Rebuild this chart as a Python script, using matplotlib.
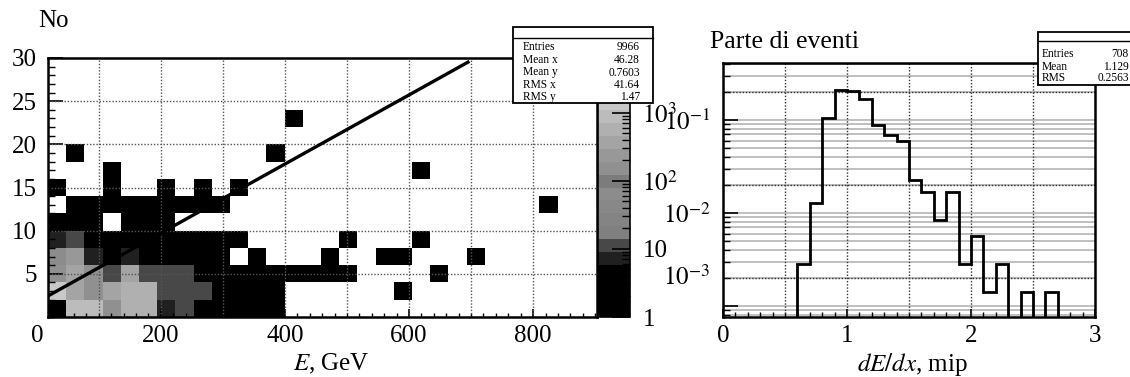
import matplotlib
matplotlib.use("Agg")
import matplotlib.pyplot as plt
import numpy as np
from matplotlib.colors import ListedColormap, LogNorm
from matplotlib.patches import Rectangle
from matplotlib.lines import Line2D
from matplotlib.ticker import MultipleLocator, LogLocator, NullFormatter
from matplotlib.transforms import blended_transform_factory

plt.rcParams['font.family'] = ['Liberation Serif', 'DejaVu Serif']
plt.rcParams['mathtext.fontset'] = 'stix'

# ---- left panel: No vs E (2-D histogram, counts per cell) ----
e_edges = np.linspace(18, 898, 31)      # GeV
no_edges = np.arange(0, 32, 2)
counts = [
    [3, 1000, 850, 170, 560, 600, 8, 12, 4, 3, 2, 2, 1, 0, 0, 0, 0, 0, 0, 0, 0, 0, 0, 0, 0, 0, 0, 0, 0, 0],
    [1500, 380, 150, 350, 550, 650, 11, 10, 10, 3, 2, 1, 1, 0, 0, 0, 0, 0, 0, 1, 0, 0, 0, 0, 0, 0, 0, 0, 0, 0],
    [160, 400, 170, 12, 420, 13, 11, 10, 5, 4, 3, 2, 2, 1, 1, 1, 1, 0, 0, 0, 0, 1, 0, 0, 0, 0, 0, 0, 0, 0],
    [60, 200, 7, 5, 7, 5, 4, 3, 2, 2, 0, 1, 0, 0, 0, 1, 0, 0, 1, 1, 0, 0, 0, 1, 0, 0, 0, 0, 0, 0],
    [8, 12, 5, 4, 3, 3, 2, 2, 1, 1, 1, 0, 0, 0, 0, 0, 1, 0, 0, 0, 1, 0, 0, 0, 0, 0, 0, 0, 0, 0],
    [3, 3, 2, 0, 2, 2, 1, 0, 0, 0, 0, 0, 0, 0, 0, 0, 0, 0, 0, 0, 0, 0, 0, 0, 0, 0, 0, 0, 0, 0],
    [0, 2, 2, 1, 1, 1, 1, 1, 1, 1, 0, 0, 0, 0, 0, 0, 0, 0, 0, 0, 0, 0, 0, 0, 0, 0, 0, 1, 0, 0],
    [1, 0, 0, 1, 0, 0, 1, 0, 1, 0, 1, 0, 0, 0, 0, 0, 0, 0, 0, 0, 0, 0, 0, 0, 0, 0, 0, 0, 0, 0],
    [0, 0, 0, 1, 0, 0, 0, 0, 0, 0, 0, 0, 0, 0, 0, 0, 0, 0, 0, 0, 1, 0, 0, 0, 0, 0, 0, 0, 0, 0],
    [0, 1, 0, 0, 0, 0, 0, 0, 0, 0, 0, 0, 1, 0, 0, 0, 0, 0, 0, 0, 0, 0, 0, 0, 0, 0, 0, 0, 0, 0],
    [0] * 30,
    [0, 0, 0, 0, 0, 0, 0, 0, 0, 0, 0, 0, 0, 1, 0, 0, 0, 0, 0, 0, 0, 0, 0, 0, 0, 0, 0, 0, 0, 0],
    [0] * 30,
    [0] * 30,
    [0] * 30,
]
fit_p0, fit_p1 = 1.72, 0.040
fit_e = np.array([18, 695])
z_max = 10 ** 3.8
stats_left = [("Entries", "9966"), ("Mean x", "46.28"), ("Mean y", "0.7603"),
              ("RMS x", "41.64"), ("RMS y", "1.47")]

# ---- right panel: dE/dx distribution ----
dedx_edges = np.linspace(0, 3, 31)
dedx_counts = [0, 0, 0, 0, 0, 0, 2, 9, 74, 150, 146, 118, 62, 49, 42, 16, 12, 6, 12, 2,
               4, 1, 2, 0, 1, 0, 1, 0, 0, 0]
n_entries = 708
stats_right = [("Entries", "708"), ("Mean", "1.129"), ("RMS", "0.2563")]

# ROOT-like gray palette (20 bands)
grays = ['#000000', '#000000', '#000000', '#000000', '#202020', '#484848',
         '#808080', '#848484', '#888888', '#8c8c8c', '#7c7c7c', '#909090',
         '#989898', '#a4a4a4', '#b0b0b0', '#bcbcbc', '#c8c8c8', '#d4d4d4',
         '#e0e0e0', '#ececec']
cmap = ListedColormap(grays)

W, H = 1130, 377
fig = plt.figure(figsize=(W / 100, H / 100), dpi=100)
ax1 = fig.add_axes([48 / W, 1 - 317 / H, 549 / W, 259 / H])
cax = fig.add_axes([598 / W, 1 - 317 / H, 32 / W, 259 / H])
ax2 = fig.add_axes([723 / W, 1 - 317 / H, 372 / W, 254 / H])

FS = 18
dots = (0, (1, 1.3))

# left panel
cnt = np.ma.masked_less(np.array(counts, dtype=float), 1)
mesh = ax1.pcolormesh(e_edges, no_edges, cnt, cmap=cmap, norm=LogNorm(1, z_max), zorder=1)
for x in range(100, 900, 100):
    ax1.axvline(x, color='#555555', lw=1, ls=dots, zorder=2)
for y in range(5, 30, 5):
    ax1.axhline(y, color='#555555', lw=1, ls=dots, zorder=2)
ax1.plot(fit_e, fit_p0 + fit_p1 * fit_e, color='black', lw=2.4, zorder=3)
ax1.set_xlim(18, 903)
ax1.set_ylim(0, 30)
ax1.set_xticks([200, 400, 600, 800])
ax1.xaxis.set_minor_locator(MultipleLocator(20))
ax1.set_yticks([5, 10, 15, 20, 25, 30])
ax1.yaxis.set_minor_locator(MultipleLocator(1))
ax1.tick_params(which='both', direction='in', top=False, right=False, labelsize=FS)
ax1.tick_params(axis='y', which='major', length=11, width=1.2, pad=8)
ax1.tick_params(axis='y', which='minor', length=5, width=1)
ax1.tick_params(axis='x', which='major', length=6, width=1.2, pad=6)
ax1.tick_params(axis='x', which='minor', length=3, width=1)
for s in ax1.spines.values():
    s.set_linewidth(1.8)
ax1.text(0, -6 / 72 * 100 / 259, '0', transform=blended_transform_factory(ax1.transData, ax1.transAxes),
         ha='center', va='top', fontsize=FS, clip_on=False)
ax1.set_xlabel('$E$, GeV', fontsize=FS)
ax1.xaxis.set_label_coords((331 - 48) / 549, (317 - 364) / 259)
ax1.xaxis.label.set_va('center')

# colour scale
cb = fig.colorbar(mesh, cax=cax)
cb.outline.set_linewidth(1.2)
cax.set_yticks([1, 10, 100, 1000], labels=['1', '10', '$10^{2}$', '$10^{3}$'])
cax.yaxis.set_minor_locator(LogLocator(base=10, subs=np.arange(2, 10)))
cax.yaxis.set_minor_formatter(NullFormatter())
cax.tick_params(which='both', direction='in', right=True, left=False, labelsize=FS, pad=9)
cax.tick_params(which='major', length=13, width=1.2)
cax.tick_params(which='minor', length=6, width=1)

# right panel
frac = np.array(dedx_counts, dtype=float) / n_entries
floor = 1e-6
ax2.set_yscale('log')
ax2.set_xlim(0, 3)
ax2.set_ylim(7.6e-4, 0.41)
for dec in [1e-4, 1e-3, 1e-2, 1e-1]:
    for m in range(1, 10):
        v = m * dec
        if 7.6e-4 < v < 0.41:
            ax2.axhline(v, color='#b4b4b4', lw=1.2, zorder=1)
for v in [0.2, 0.02, 0.002]:
    ax2.axhline(v, color='#333333', lw=1, ls=dots, zorder=2)
for x in [0.5, 1.0, 1.5, 2.0, 2.5]:
    ax2.axvline(x, color='#333333', lw=1, ls=dots, zorder=2)
ax2.stairs(np.where(frac > 0, frac, floor), dedx_edges, baseline=floor,
           color='black', lw=2, zorder=3)
ax2.set_xticks([0, 1, 2, 3])
ax2.xaxis.set_minor_locator(MultipleLocator(0.1))
ax2.set_yticks([1e-3, 1e-2, 1e-1], labels=['', '$10^{-2}$', '$10^{-1}$'])
ax2.yaxis.set_minor_locator(LogLocator(base=10, subs=np.arange(2, 10)))
ax2.yaxis.set_minor_formatter(NullFormatter())
ax2.tick_params(which='both', direction='in', top=False, right=False, labelsize=FS)
ax2.tick_params(axis='y', which='major', length=11, width=1.2, pad=9)
ax2.tick_params(axis='y', which='minor', length=5, width=1)
ax2.tick_params(axis='x', which='major', length=6, width=1.2, pad=6)
ax2.tick_params(axis='x', which='minor', length=3.5, width=1)
for s in ax2.spines.values():
    s.set_linewidth(1.8)
ax2.text(-13 / 372, 0.002, '$10^{-3}$', transform=blended_transform_factory(ax2.transAxes, ax2.transData),
         ha='right', va='center', fontsize=FS)
ax2.set_xlabel('$dE/dx$, mip', fontsize=FS)
ax2.xaxis.set_label_coords((912 - 723) / 372, (317 - 364) / 254)
ax2.xaxis.label.set_va('center')

# titles of the y axes
fig.text(38 / W, 1 - 21 / H, 'No', fontsize=FS, ha='left', va='center')
fig.text(710 / W, 1 - 42 / H, 'Parte di eventi', fontsize=18.5, ha='left', va='center')


def stat_box(x0, y0, x1, y1, ydiv, rows, rows_y, xt, xv):
    fig.add_artist(Rectangle((x0 / W, 1 - y1 / H), (x1 - x0) / W, (y1 - y0) / H,
                             transform=fig.transFigure, fc='white', ec='black', lw=1.3, zorder=10))
    fig.add_artist(Line2D([x0 / W, x1 / W], [1 - ydiv / H] * 2, transform=fig.transFigure,
                          color='black', lw=1, zorder=11))
    for (name, val), y in zip(rows, rows_y):
        fig.text(xt / W, 1 - y / H, name, fontsize=8.3, ha='left', va='center', zorder=12)
        fig.text(xv / W, 1 - y / H, val, fontsize=8.3, ha='right', va='center', zorder=12)


stat_box(513, 27, 653, 103, 38, stats_left, [47, 60, 72.5, 85, 97], 523, 640)
stat_box(1038, 32, 1145, 85, 40.5, stats_right, [54, 66.5, 78], 1042, 1129)

fig.savefig('out.png', dpi=100, facecolor='white')
